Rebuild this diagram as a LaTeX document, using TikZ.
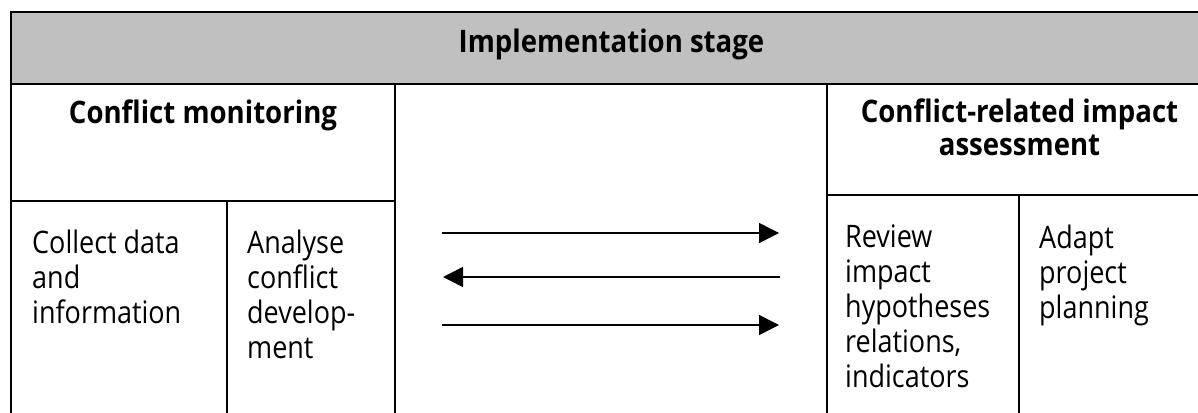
\documentclass[tikz,border=0pt]{standalone}
\usepackage{fontspec}
\setmainfont{Open Sans}[FakeStretch=0.87,BoldFeatures={FakeStretch=0.89}]
\usetikzlibrary{arrows.meta}
\definecolor{headgray}{RGB}{192,192,192}
\begin{document}
\begin{tikzpicture}[x=1pt,y=-1pt,
  cell/.style={draw=black,line width=2pt},
  headtext/.style={font=\bfseries\fontsize{31}{33}\selectfont,align=center,
    inner sep=0pt,anchor=north,execute at begin node=\rule{0pt}{26pt}},
  bodytext/.style={font=\fontsize{31}{35}\selectfont,align=left,
    inner sep=0pt,anchor=north west,execute at begin node=\rule{0pt}{26pt}},
  flow/.style={line width=1.5pt,-{Triangle[length=20pt,width=20pt]}}]
\clip (0,0) rectangle (1198,412);
\fill[white] (0,0) rectangle (1198,412);

% table cells (the frame runs on past the right and bottom edges)
\draw[cell,fill=headgray] (11,12) rectangle (1212,84);
\draw[cell] (11,84) rectangle (395,201);
\draw[cell] (11,201) rectangle (227,440);
\draw[cell] (227,201) rectangle (395,440);
\draw[cell] (395,84) rectangle (827,440);
\draw[cell] (827,84) rectangle (1212,195);
\draw[cell] (827,195) rectangle (1019,440);
\draw[cell] (1019,195) rectangle (1212,440);

% headings
\node[headtext] (stage) at (611.5,26) {Implementation stage};
\node[headtext] (monitor) at (203,97) {Conflict monitoring};
\node[headtext] (assess) at (1019.5,99) {Conflict-related impact\\assessment};

% cell texts
\node[bodytext] (collect) at (32,230) {Collect data\\and\\information};
\node[bodytext] (analyse) at (247,230) {Analyse\\conflict\\develop-\\ment};
\node[bodytext] (review) at (845,225) {Review\\impact\\hypotheses\\relations,\\indicators};
\node[bodytext] (adapt) at (1039,225) {Adapt\\project\\planning};

% exchange arrows
\coordinate (f1s) at (442,233);
\coordinate (f1e) at (779,233);
\coordinate (f2s) at (780,277);
\coordinate (f2e) at (443,277);
\coordinate (f3s) at (442,325);
\coordinate (f3e) at (779,325);
\draw[flow] (f1s) -- (f1e);
\draw[flow] (f2s) -- (f2e);
\draw[flow] (f3s) -- (f3e);
\end{tikzpicture}
\end{document}
